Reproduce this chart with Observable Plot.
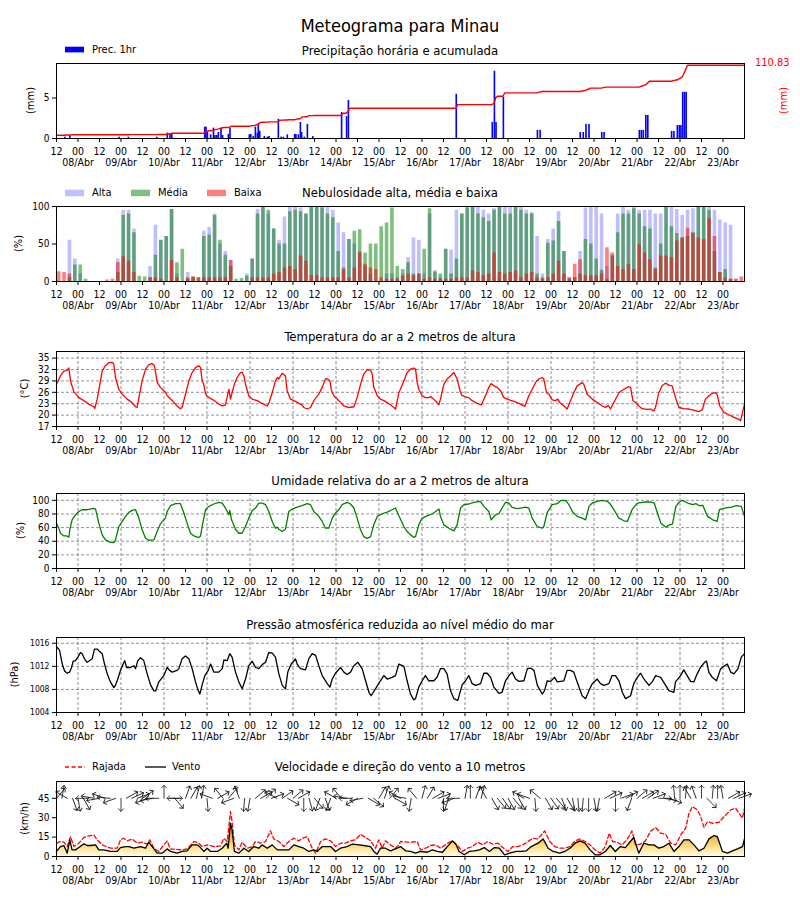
<!DOCTYPE html>
<html><head><meta charset="utf-8">
<script src="https://cdn.jsdelivr.net/npm/d3@7"></script>
<script src="https://cdn.jsdelivr.net/npm/@observablehq/plot@0.6"></script>
<style>
body{margin:0;background:#fff;}
#root{position:relative;width:800px;height:900px;overflow:hidden;background:#fff;}
</style></head><body><div id="root"></div>
<script>
// ---------------- DATA (hours from the first tick) ----------------
const dateLabels = ["08/Abr","09/Abr","10/Abr","11/Abr","12/Abr","13/Abr","14/Abr","15/Abr","16/Abr","17/Abr","18/Abr","19/Abr","20/Abr","21/Abr","22/Abr","23/Abr"];
const hourLabels = ["12","00"];

const precipSeries = [[5.0,0.17],[7.8,0.37],[35.2,0.17],[40.4,0.17],[56.2,0.17],[62.1,0.66],[63.6,0.58],[64.6,0.66],[83.0,1.4],[83.7,1.4],[84.5,0.74],[86.3,0.45],[87.9,1.28],[88.7,0.37],[89.7,0.37],[90.6,0.74],[92.1,1.28],[93.0,0.37],[96.2,0.5],[97.1,1.28],[107.9,0.45],[108.7,0.5],[110.1,0.25],[111.3,1.4],[112.4,0.66],[112.9,1.74],[113.7,0.9],[116.3,0.25],[118.0,0.17],[118.9,0.25],[124.1,2.36],[125.6,0.17],[126.9,0.17],[129.1,0.45],[133.2,0.5],[133.9,0.5],[135.3,0.45],[136.4,1.98],[137.1,0.74],[138.6,0.17],[140.3,1.74],[143.3,0.25],[159.4,3.2],[162.2,2.7],[163.2,4.7],[223.4,5.45],[243.5,1.98],[244.7,8.3],[245.6,1.98],[249.7,5.1],[268.7,1.0],[270.2,1.0],[292.6,0.74],[294.3,0.74],[295.8,1.74],[297.5,1.74],[304.6,0.74],[305.9,0.74],[325.6,1.0],[326.7,1.0],[327.8,1.0],[329.2,2.85],[330.3,2.85],[343.6,0.87],[344.9,0.87],[346.8,1.6],[347.9,1.6],[348.8,1.6],[349.8,5.7],[350.8,5.7],[351.7,5.7]];
const accStart = 4.9;          // accumulated value at the start of the line (right axis, mm)
const accAxisTop = 110.83;     // right axis label

const cloudStep = 3;
const cloudAlta = [0,0,55,30,10,0,0,0,0,0, 0,30,95,95,70,0,0,20,75,55, 60,96,10,0,12,5,0,67,72,90, 50,40,28,0,0,10,30,96,100,90, 70,55,86,100,100,98,90,100,100,100, 100,95,78,65,56,50,40,20,10,0, 0,10,10,5,10,32,58,55,10,90, 12,5,43,42,95,90,100,100,100,95, 90,97,100,100,100,100,100,95,92,60, 10,56,70,93,40,5,5,40,98,100, 100,90,20,35,90,100,95,100,95,95, 95,90,90,100,100,96,88,95,97,100, 100,100,95,82,78,75,3,0];
const cloudMedia = [0,0,5,22,22,3,0,0,0,0, 0,12,88,90,65,7,6,5,35,55, 60,96,25,43,3,6,5,60,62,88, 55,35,20,3,4,7,30,90,100,95, 70,50,50,93,95,93,90,100,100,98, 90,85,40,18,56,67,69,38,50,50, 73,78,98,20,16,25,10,10,43,97, 14,10,43,10,30,90,98,100,90,85, 80,95,100,90,90,100,95,90,90,10, 5,51,54,80,40,3,5,10,56,50, 30,15,3,34,65,90,90,97,90,73, 70,18,50,100,73,64,58,60,65,100, 100,95,40,12,16,3,0,0];
const cloudBaixa = [13,12,10,0,0,0,0,0,0,2, 3,25,33,27,12,0,0,5,5,3, 0,28,5,0,5,6,5,5,5,5, 5,5,28,0,0,0,5,5,5,5, 10,12,18,20,16,34,27,8,8,5, 5,5,5,15,5,18,38,23,18,16, 5,3,3,3,7,10,8,10,3,5, 3,3,3,3,5,5,5,14,12,8, 10,38,12,10,12,14,5,10,12,5, 3,5,10,27,10,5,23,29,8,8, 8,10,45,38,20,16,23,16,49,38, 29,16,34,34,32,54,58,71,64,58, 56,84,60,12,5,3,3,6];

const tempSeries = [[0,28.1],[2.2,30.3],[4.1,31.6],[6.0,31.8],[6.9,32.4],[7.8,29.0],[9.7,26.1],[12.5,24.6],[15.3,23.8],[18.0,22.9],[20.8,22.2],[21.4,21.8],[22.7,24.2],[24.2,28.1],[25.5,31.6],[27.3,33.0],[29.2,33.8],[31.1,33.9],[32.0,33.4],[32.9,29.9],[34.8,26.8],[36.7,25.5],[39.4,24.2],[42.2,23.3],[44.1,22.2],[45.0,22.0],[46.0,24.6],[47.8,29.0],[49.7,32.1],[51.5,33.2],[53.4,33.6],[54.7,33.0],[56.2,28.6],[58.0,27.3],[59.9,26.4],[60.8,26.1],[61.8,25.1],[64.6,23.8],[67.3,22.4],[69.2,21.7],[70.1,22.0],[72.0,25.5],[73.9,29.0],[75.7,31.2],[77.6,32.5],[79.4,33.0],[80.4,32.5],[81.3,29.0],[82.2,28.1],[83.2,25.5],[85.0,24.6],[87.8,23.9],[90.6,22.9],[92.5,22.4],[94.3,22.7],[96.2,26.8],[97.1,24.2],[99.0,27.7],[100.8,29.9],[102.7,31.2],[103.6,31.3],[104.6,30.3],[105.5,28.1],[107.3,25.1],[109.2,24.2],[112.0,23.8],[113.9,23.3],[115.7,22.9],[117.6,22.4],[118.5,23.1],[120.4,25.9],[122.2,29.0],[123.2,29.9],[124.1,29.5],[125.0,30.3],[126.0,31.0],[127.8,30.3],[128.7,26.4],[130.6,24.2],[132.5,23.8],[135.3,23.1],[137.1,22.7],[138.0,22.0],[139.9,21.6],[141.8,22.0],[143.6,23.8],[146.4,25.5],[148.3,27.3],[150.1,29.5],[151.1,29.6],[152.6,29.0],[153.5,26.4],[154.8,25.1],[157.6,23.8],[160.4,22.4],[163.2,22.0],[166.0,22.2],[167.8,24.6],[169.7,28.1],[171.5,30.8],[173.4,31.9],[175.3,31.8],[176.2,30.8],[177.1,27.3],[179.0,25.1],[180.8,24.2],[182.7,23.8],[184.6,23.3],[187.3,22.4],[189.2,21.6],[191.1,25.9],[193.9,29.0],[195.7,31.2],[197.6,32.1],[199.4,32.4],[200.4,32.1],[201.3,28.6],[202.2,26.8],[204.1,25.1],[205.9,24.6],[207.8,24.6],[208.7,24.9],[210.6,24.2],[212.4,23.3],[213.4,22.7],[214.3,24.2],[216.2,28.1],[218.0,29.5],[219.9,30.3],[221.8,31.2],[223.6,29.5],[225.5,25.9],[226.4,25.2],[228.3,24.8],[230.1,24.6],[232.0,23.8],[234.8,23.1],[237.2,22.7],[239.4,25.1],[241.3,27.3],[242.6,28.3],[244.1,27.7],[246.0,27.3],[247.8,26.4],[249.7,24.6],[251.6,24.2],[253.4,23.9],[255.3,23.6],[258.1,23.1],[261.4,22.3],[263.6,25.1],[265.5,26.8],[267.4,28.6],[269.2,29.5],[271.1,29.9],[272.0,29.5],[273.5,25.9],[274.8,25.5],[276.7,24.0],[278.5,23.8],[279.8,24.2],[280.9,23.3],[283.2,22.4],[285.0,21.6],[286.9,23.8],[288.7,25.9],[290.6,27.7],[293.4,28.6],[294.3,28.1],[296.2,25.5],[299.0,24.2],[301.8,23.3],[304.6,22.4],[306.4,22.0],[307.4,22.4],[308.3,22.4],[309.2,21.6],[311.1,23.3],[313.9,25.9],[316.7,26.8],[319.4,27.5],[320.4,27.3],[321.7,23.8],[323.2,23.3],[325.0,22.4],[326.9,21.7],[329.7,21.5],[331.5,21.6],[333.4,21.1],[334.3,22.0],[336.2,25.9],[338.0,27.7],[339.9,28.4],[341.8,27.9],[343.6,27.7],[345.5,24.6],[347.4,22.0],[350.1,21.7],[352.9,21.6],[355.7,21.3],[358.5,20.9],[360.4,21.4],[362.2,24.2],[364.1,25.1],[366.0,25.7],[367.8,25.9],[368.7,25.5],[370.2,22.4],[372.5,20.7],[375.3,20.1],[378.1,19.4],[380.9,18.9],[381.8,18.5],[384,22.9]];

const humSeries = [[0,66.5],[1.3,59],[2.2,51.7],[4.1,47.8],[5.6,47.8],[6.9,45.8],[7.4,56.7],[8.7,71.4],[10.6,78.8],[12.5,83.7],[14.3,86.2],[17.1,86.2],[19.0,87.2],[20.8,88.2],[21.8,87.2],[23.6,66.5],[25.5,49.3],[27.3,41.9],[30.1,38.4],[32.0,37.9],[32.9,41.9],[34.8,61.6],[36.7,69],[38.5,76.4],[40.4,82.3],[42.2,85.2],[44.1,86.2],[46.0,73.9],[47.8,56.7],[49.7,44.3],[51.5,41.4],[54.3,41.9],[56.2,54.2],[58.0,65.5],[59.9,71.4],[60.8,73.9],[61.8,83.7],[63.6,92.1],[66.4,95.1],[69.2,95.1],[71.1,81.3],[72.9,66.5],[74.8,51.7],[76.7,47.8],[79.4,45.3],[80.4,47.8],[81.3,61.6],[83.2,86.2],[85.0,91.1],[87.8,94.6],[90.6,97],[92.5,96],[94.3,88.7],[96.2,78.8],[96.7,85.2],[97.7,71.4],[99.9,57.6],[101.8,51.7],[103.6,51.7],[105.5,61.6],[107.3,73.9],[109.2,84.7],[111.1,88.7],[112.9,96],[114.8,96],[116.7,93.6],[118.5,83.7],[120.4,69],[122.2,59.1],[123.2,60.6],[124.1,57.6],[126.0,54.2],[127.8,57.6],[129.7,83.7],[131.5,87.2],[134.3,90.1],[137.1,92.1],[139.9,95.1],[141.8,93.6],[143.6,83.7],[146.4,76.4],[148.3,69],[150.1,59.1],[152.0,59.1],[153.9,73.9],[155.7,81.3],[157.6,86.2],[159.4,93.6],[162.2,97],[164.1,94.6],[166.0,88.7],[167.8,73.9],[169.7,56.7],[171.5,46.8],[173.4,44.3],[175.3,46.8],[177.1,64],[179.0,76.4],[181.8,80.3],[184.6,82.8],[187.3,86.2],[189.2,88.7],[191.1,77.3],[193.9,61.6],[195.7,54.2],[197.6,49.3],[199.4,45.8],[200.4,46.8],[202.2,64],[204.1,73.9],[206.9,77.3],[209.8,80.3],[211.6,83.7],[213.5,87.2],[214.3,76.4],[216.2,64],[219.0,59.1],[221.8,55.2],[223.6,64],[225.5,88.7],[227.4,93.6],[230.1,94.6],[232.9,97],[236.6,98.5],[238.5,91.1],[241.3,83.7],[242.6,71.4],[245.0,78.8],[246.9,80.3],[248.7,88.7],[250.6,97],[252.5,96],[254.3,89.7],[257.1,87.7],[259.0,88.7],[261.8,90.1],[263.6,88.7],[265.5,73.9],[268.3,61.6],[271.1,59.1],[272.0,61.6],[273.9,82.3],[276.7,93.6],[279.5,95.1],[281.3,99.5],[284.1,100],[286.0,93.6],[287.9,83.7],[290.6,76.4],[293.4,73.9],[295.3,71.4],[297.2,91.1],[299.0,96],[301.8,98.5],[304.6,100],[307.4,98.5],[308.9,95.1],[311.1,86.2],[313.9,73.9],[316.7,70],[318.6,69],[321.4,87.2],[324.2,96],[327.9,97.5],[331.7,97.5],[333.6,96],[335.4,81.3],[337.3,66.5],[340.1,60.6],[342.0,64],[343.8,65],[345.7,91.1],[347.6,97.5],[349.4,100],[352.3,96],[355.1,93.6],[356.9,95.1],[358.8,92.1],[360.7,92.6],[363.4,76.4],[366.3,71.4],[368.7,69],[370.0,86.2],[372.8,88.7],[376.6,90.1],[379.4,92.1],[382.2,91.1],[384,76.4]];

const presSeries = [[0,1015.4],[1.7,1014.8],[3.2,1012.4],[4.5,1011.2],[6.0,1010.8],[7.3,1011.0],[8.4,1011.8],[9.3,1012.9],[10.6,1013.0],[11.9,1013.6],[13.4,1014.4],[14.3,1014.2],[15.6,1013.3],[17.1,1012.7],[18.6,1013.0],[19.9,1013.3],[21.2,1015.0],[22.7,1015.0],[24.0,1014.6],[25.5,1014.2],[26.8,1012.4],[28.3,1010.7],[30.1,1009.3],[32.0,1008.3],[32.9,1008.7],[34.2,1009.8],[35.7,1011.3],[37.2,1012.4],[38.1,1013.0],[39.1,1011.8],[41.3,1011.8],[43.2,1012.1],[44.1,1011.6],[45.4,1013.0],[46.9,1013.5],[48.7,1013.0],[50.6,1010.7],[52.5,1008.8],[54.3,1007.8],[55.3,1007.7],[57.1,1009.3],[59.9,1010.4],[61.8,1011.8],[63.1,1011.3],[64.6,1011.0],[67.3,1011.3],[68.3,1011.6],[70.1,1013.3],[72.0,1013.8],[73.9,1013.3],[75.7,1011.6],[77.6,1009.3],[79.1,1007.8],[80.0,1007.2],[81.3,1008.8],[82.8,1010.4],[84.7,1011.3],[86.0,1012.4],[87.8,1011.0],[90.6,1011.0],[92.5,1011.6],[93.4,1013.1],[95.3,1013.0],[96.7,1014.2],[98.0,1013.6],[99.9,1011.0],[101.8,1009.3],[103.6,1008.1],[105.5,1009.8],[107.3,1012.1],[109.2,1012.9],[111.1,1011.8],[112.9,1011.6],[114.8,1012.3],[116.7,1012.7],[118.5,1014.4],[120.4,1014.3],[122.2,1013.6],[124.1,1010.7],[126.0,1008.7],[127.8,1008.1],[129.1,1011.0],[131.0,1012.4],[133.4,1013.3],[134.3,1012.4],[136.2,1011.6],[139.0,1011.4],[140.8,1013.3],[142.7,1014.2],[144.6,1013.9],[146.4,1012.1],[148.3,1010.4],[151.1,1009.0],[152.6,1008.4],[153.9,1009.8],[155.7,1010.8],[158.5,1011.8],[160.4,1011.0],[162.2,1010.6],[164.1,1011.0],[166.0,1012.1],[168.2,1012.7],[170.6,1011.6],[172.5,1009.5],[174.4,1007.5],[175.6,1006.9],[178.0,1008.1],[180.8,1009.5],[182.7,1010.4],[184.6,1009.8],[187.3,1010.1],[189.2,1010.4],[191.1,1012.4],[193.9,1012.0],[195.7,1009.5],[197.6,1007.2],[199.4,1006.2],[200.4,1006.4],[202.2,1008.4],[204.1,1009.5],[205.9,1010.4],[207.8,1009.5],[210.6,1009.5],[212.4,1010.1],[214.3,1011.6],[216.2,1011.6],[218.0,1010.7],[219.9,1007.8],[221.8,1006.4],[224.0,1006.1],[226.4,1008.8],[228.3,1009.5],[230.1,1010.4],[232.0,1009.0],[233.9,1008.7],[236.7,1009.0],[238.5,1010.8],[240.4,1010.8],[242.3,1010.1],[244.1,1008.4],[246.9,1007.3],[248.7,1007.5],[250.6,1009.5],[252.5,1010.4],[254.3,1011.0],[256.2,1009.8],[258.1,1009.4],[260.9,1009.5],[262.8,1011.6],[264.6,1011.7],[266.5,1011.3],[268.4,1008.7],[271.1,1007.2],[272.4,1007.8],[273.9,1009.5],[275.8,1009.4],[278.0,1010.1],[279.5,1009.3],[283.2,1009.5],[285.0,1011.3],[286.9,1011.3],[288.7,1011.0],[290.6,1009.3],[293.4,1006.9],[295.3,1006.4],[297.2,1007.8],[299.0,1009.0],[301.8,1009.8],[303.6,1009.0],[305.5,1008.7],[308.3,1009.0],[310.1,1010.4],[312.0,1010.4],[313.9,1009.5],[315.8,1007.5],[317.6,1006.4],[320.4,1006.9],[322.2,1009.0],[324.2,1010.1],[326.0,1010.8],[327.9,1009.8],[330.7,1008.7],[332.5,1009.3],[334.4,1010.4],[337.2,1010.1],[340.0,1008.7],[341.8,1007.8],[344.6,1007.5],[345.5,1009.3],[348.3,1010.4],[350.1,1011.4],[352.0,1010.4],[353.9,1009.4],[355.7,1009.3],[357.6,1010.7],[359.4,1011.8],[361.7,1012.7],[362.8,1012.9],[364.1,1011.0],[366.0,1010.1],[368.4,1009.5],[370.7,1011.6],[372.5,1012.0],[374.4,1012.4],[376.3,1011.0],[378.1,1010.7],[380.4,1011.6],[382.2,1013.6],[384,1014.2]];

const windSeries = [[0,3.9],[2.2,7.7],[4.1,8.5],[6.0,2.6],[7.4,12.9],[8.7,5.1],[10.6,5.1],[12.5,6.9],[15.3,9.8],[17.1,8.5],[19.0,8.5],[21.8,9.0],[23.6,5.1],[26.4,5.1],[30.1,3.9],[33.9,3.9],[35.7,6.9],[38.5,7.7],[40.4,7.7],[43.2,6.4],[46.9,7.7],[49.7,6.4],[51.5,11.1],[53.4,7.7],[56.2,2.6],[59.0,2.6],[61.8,5.9],[63.6,3.9],[67.3,2.6],[70.1,3.9],[72.9,4.4],[75.7,9.0],[78.5,9.0],[80.4,6.9],[82.2,3.9],[84.1,6.4],[86.0,3.9],[89.7,3.9],[92.5,6.4],[95.0,10.3],[95.8,6.4],[97.1,25.7],[98.0,20.6],[99.3,3.9],[101.8,2.6],[104.6,6.4],[107.3,3.9],[110.1,7.7],[112.9,6.4],[114.8,9.0],[117.6,6.4],[120.4,9.0],[123.2,5.1],[126.0,5.1],[129.7,5.1],[132.5,9.0],[135.3,7.7],[138.0,6.4],[140.8,3.9],[143.6,5.1],[145.5,3.9],[148.3,7.7],[151.1,7.7],[153.0,7.7],[155.7,3.9],[158.5,6.4],[162.2,7.7],[165.0,9.5],[168.8,9.0],[171.5,8.5],[175.3,7.7],[177.1,3.9],[179.0,1.8],[180.8,6.4],[183.6,6.4],[186.4,4.4],[190.1,6.4],[192.0,7.7],[194.8,4.4],[197.6,3.9],[200.4,2.6],[203.2,3.9],[206.9,3.3],[209.8,5.1],[212.6,3.9],[215.4,3.3],[218.2,7.7],[221.0,12.1],[222.9,9.5],[224.7,3.9],[227.6,1.3],[230.4,3.9],[233.2,4.4],[236.0,5.1],[238.8,6.9],[241.6,3.9],[244.4,6.9],[247.2,6.4],[250.1,1.3],[252.9,2.6],[256.6,3.9],[259.4,3.9],[262.2,4.4],[265.0,7.7],[268.8,10.3],[271.6,13.6],[274.4,6.4],[277.2,3.9],[280.9,2.6],[283.7,3.9],[286.6,6.4],[289.4,10.3],[292.2,12.1],[295.0,10.3],[297.8,5.1],[300.6,1.3],[303.4,1.3],[306.3,3.9],[309.1,8.5],[311.9,3.9],[314.7,7.7],[317.5,6.9],[320.3,11.6],[322.2,14.7],[325.0,2.6],[327.8,10.3],[330.6,9.0],[333.4,9.0],[336.2,6.4],[339.0,7.7],[341.8,10.3],[344.6,3.9],[347.4,7.7],[350.2,12.9],[353.0,12.9],[355.8,9.0],[358.6,4.4],[361.4,6.4],[364.2,13.6],[367.0,16.2],[368.8,15.4],[371.7,3.9],[374.5,2.6],[377.3,4.4],[380.1,5.9],[382.9,7.7],[384,13.6]];

const gustSeries = [[0,10.3],[2.2,11.6],[4.1,11.1],[6.0,7.7],[7.8,15.4],[9.7,7.7],[12.5,10.3],[15.3,14.7],[18.0,15.9],[20.8,16.7],[22.7,12.9],[25.5,9.0],[30.1,6.4],[33.9,6.4],[35.7,12.9],[37.6,14.1],[39.4,12.1],[42.2,13.6],[45.0,10.3],[47.8,11.1],[50.6,9.5],[52.1,12.9],[54.3,6.4],[57.1,3.9],[59.9,9.0],[61.8,12.1],[63.6,5.7],[66.4,5.7],[70.1,5.1],[72.9,5.9],[76.7,11.6],[79.4,10.3],[81.3,7.7],[84.1,9.0],[87.8,7.7],[91.6,8.2],[93.4,14.1],[95.3,11.6],[97.1,34.7],[98.0,27.0],[99.3,9.0],[101.8,5.1],[103.6,11.1],[106.4,6.4],[109.2,7.7],[111.1,11.6],[113.9,10.3],[116.7,11.6],[119.4,19.8],[121.3,13.6],[124.1,11.6],[126.9,7.7],[129.7,11.6],[132.5,14.1],[135.3,12.1],[137.1,14.1],[139.9,15.4],[142.7,6.4],[144.6,2.6],[147.4,11.6],[150.1,13.6],[153.0,12.1],[155.7,7.7],[158.5,10.3],[161.3,10.3],[164.1,12.1],[166.9,12.9],[169.7,17.2],[172.5,14.7],[175.3,12.1],[178.0,6.4],[179.9,12.9],[181.8,6.4],[183.6,12.1],[186.4,9.0],[189.2,6.4],[191.1,9.0],[192.0,11.6],[195.7,11.1],[198.5,11.1],[201.3,11.6],[203.2,5.1],[206.0,6.4],[208.8,8.5],[211.6,9.0],[214.5,6.4],[218.2,10.3],[221.0,12.1],[223.8,8.5],[226.6,3.9],[229.4,6.4],[232.2,7.7],[235.0,11.1],[237.9,9.0],[240.7,11.6],[243.5,9.5],[246.3,10.3],[249.1,6.9],[251.9,3.9],[254.7,7.7],[257.5,7.7],[260.3,9.0],[263.1,11.6],[265.9,14.1],[268.7,13.6],[272.5,19.8],[275.3,11.6],[278.1,7.7],[280.9,6.4],[283.7,6.4],[286.6,7.7],[289.4,12.1],[292.2,13.6],[295.0,11.6],[297.8,9.0],[300.6,5.1],[303.4,2.6],[306.3,7.7],[308.5,18.0],[310.4,11.6],[312.8,11.1],[315.6,9.0],[318.4,12.9],[321.2,19.8],[323.2,9.0],[325.9,9.5],[328.7,12.1],[331.5,19.3],[334.4,22.4],[337.2,18.0],[340.0,17.2],[342.8,10.3],[345.6,9.0],[348.4,16.7],[351.2,21.9],[353.0,33.4],[354.9,38.6],[357.7,36.0],[359.6,30.8],[361.4,22.4],[363.3,27.0],[366.1,25.7],[369.8,26.5],[372.6,30.8],[376.3,36.0],[379.1,37.3],[381.0,33.4],[382.8,29.6],[384,37.3]];

const windDirStep = 3;
const windDir = [40,10,300,160,170,150,270,280,260,290, 275,250,180,60,65,70,55,250,260,270, 0,90,140,270,20,30,15,10,175,290, 60,320,40,250,340,185,190,50,60,45, 70,300,55,120,50,60,180,165,140,200, 160,200,300,320,280,270,240,260,120,130, 30,20,40,120,300,280,190,320,15,30, 60,70,180,200,250,270,10,0,20,15, 330,150,140,145,150,140,150,300,290,175, 310,150,145,140,160,150,170,175,185,180, 170,190,60,65,180,70,60,200,50,60, 55,70,90,100,110,355,0,5,330,340, 0,135,5,0,350,60,65,70];

// ---------------- helpers ----------------
const toObj = s => s.map(([h, v]) => ({h, v}));
const tickHours = d3.range(0, 384, 12);
const hourLabel = new Map(tickHours.map((h, i) => [h, hourLabels[i % 2]]));
const dateHours = dateLabels.map((d, i) => 12 + 24 * i);
const dateLabel = new Map(dateHours.map((h, i) => [h, dateLabels[i]]));

const condensed = (() => {
  const c = document.createElement("canvas").getContext("2d");
  c.font = '20px "DejaVu Sans"'; const w1 = c.measureText("Meteograma para Minau").width;
  c.font = '20px "DejaVu Sans Condensed", "DejaVu Sans"'; const w2 = c.measureText("Meteograma para Minau").width;
  return w2 < w1 * 0.97;
})();
const FAM = condensed ? '"DejaVu Sans Condensed", "DejaVu Sans", sans-serif' : '"DejaVu Sans", sans-serif';
const K = condensed ? 1 : 0.9;
const fs = px => +(px * K).toFixed(2);

const root = document.getElementById("root");
const FRAME_TOPS = [63.3, 206.3, 350.7, 493.3, 636.7, 780.7];
const MT = 24, PH = 75, MB = 44;

// title
{
  const s = d3.select(root).append("svg").attr("width", 800).attr("height", 40)
    .style("position", "absolute").style("left", "0px").style("top", "0px");
  s.append("text").attr("x", 400).attr("y", 32.3).attr("text-anchor", "middle")
    .attr("font-family", FAM).attr("font-size", fs(18)).text("Meteograma para Minau");
}

function addText(svg, x, y, txt, o = {}) {
  const t = d3.select(svg).append("text").attr("x", x).attr("y", y).text(txt)
    .attr("font-family", FAM).attr("font-size", fs(o.size || 11)).attr("fill", o.fill || "black")
    .attr("text-anchor", o.anchor || "start");
  if (o.dy) t.attr("dy", o.dy);
  if (o.rotate) t.attr("transform", `rotate(${o.rotate},${x},${y})`);
  return t;
}

function panel(i, yDomain, yTicks, marks, opt = {}) {
  const svg = Plot.plot({
    width: 800, height: MT + PH + MB,
    marginLeft: 56, marginRight: 56, marginTop: MT, marginBottom: MB,
    x: {domain: [0, 384], label: null},
    y: {domain: yDomain, label: null},
    style: {fontFamily: FAM, fontSize: fs(10.5) + "px", background: "transparent", color: "black", overflow: "visible"},
    marks: [
      ...(opt.grid ? [
        Plot.gridX(dateHours, {stroke: "#777", strokeOpacity: 1, strokeWidth: 0.8, strokeDasharray: "3,2"}),
        Plot.gridY(yTicks, {stroke: "#777", strokeOpacity: 1, strokeWidth: 0.8, strokeDasharray: "3,2"})
      ] : []),
      ...marks,
      Plot.axisY(yTicks, {tickSize: 4, tickPadding: 3, label: null, tickFormat: d => String(d), fontSize: fs(opt.yFont || 10)}),
      Plot.axisX(tickHours, {tickSize: 4, tickPadding: 5, label: null, tickFormat: h => hourLabel.get(h), fontSize: fs(10.5)}),
      Plot.axisX(dateHours, {tickSize: 0, tickPadding: 20, label: null, tickFormat: h => dateLabel.get(h), fontSize: fs(10.5)}),
      Plot.frame({stroke: "black", strokeWidth: 1})
    ]
  });
  svg.style.position = "absolute"; svg.style.left = "0px"; svg.style.top = (FRAME_TOPS[i] - MT) + "px";
  root.appendChild(svg);
  if (opt.title) addText(svg, 400, MT + (opt.titleDy || -8), opt.title, {size: 13, anchor: "middle"});
  if (opt.ylabel) addText(svg, opt.ylabelX, MT + PH / 2, opt.ylabel, {size: 11, anchor: "middle", dy: "0.35em", rotate: -90});
  return svg;
}

// ---------- Panel 1: precipitation ----------
const precip = toObj(precipSeries).sort((a, b) => a.h - b.h);
const accLine = [{h: 0, acc: accStart}];
{
  let acc = accStart;
  for (const d of precip) { accLine.push({h: d.h - 0.5, acc}); acc += d.v; accLine.push({h: d.h + 0.5, acc}); }
  accLine.push({h: 384, acc});
}
const P_TOP = 9.26;
const s1 = panel(0, [0, P_TOP], [0, 5], [
  Plot.rect(precip, {x1: d => d.h - 0.45, x2: d => d.h + 0.45, y1: 0, y2: "v", fill: "blue"}),
  Plot.line(accLine, {x: "h", y: d => d.acc / accAxisTop * P_TOP, stroke: "red", strokeWidth: 1.4})
], {title: "Precipitação horária e acumulada", titleDy: -7.6, ylabel: "(mm)", ylabelX: 30});
addText(s1, 755, MT + 3, accAxisTop.toFixed(2), {size: 11, fill: "red"});
addText(s1, 783, MT + PH / 2, "(mm)", {size: 11, fill: "red", anchor: "middle", dy: "0.35em", rotate: -90});
d3.select(s1).append("rect").attr("x", 65).attr("y", MT - 16.3).attr("width", 19).attr("height", 5.7).attr("fill", "blue");
addText(s1, 92, MT - 10, "Prec. 1hr", {size: 11});

// ---------- Panel 2: clouds ----------
const clouds = cloudAlta.map((a, i) => ({h: i * cloudStep, alta: a, media: cloudMedia[i], baixa: cloudBaixa[i]}));
const barX = {x1: d => d.h + 0.5, x2: d => d.h + 2.5};
const s2 = panel(1, [0, 100], [0, 50, 100], [
  Plot.rect(clouds, {...barX, y1: 0, y2: "alta", fill: "blue", fillOpacity: 0.25}),
  Plot.rect(clouds, {...barX, y1: 0, y2: "media", fill: "green", fillOpacity: 0.5}),
  Plot.rect(clouds, {...barX, y1: 0, y2: "baixa", fill: "red", fillOpacity: 0.5})
], {title: "Nebulosidade alta, média e baixa", titleDy: -9, ylabel: "(%)", ylabelX: 18.5});
[["Alta", 65, 92, "rgba(0,0,255,0.25)"], ["Média", 131, 158, "rgba(0,128,0,0.5)"], ["Baixa", 207, 234, "rgba(255,0,0,0.5)"]].forEach(([t, rx, tx, c]) => {
  d3.select(s2).append("rect").attr("x", rx).attr("y", MT - 16.3).attr("width", 19).attr("height", 6.5).attr("fill", c);
  addText(s2, tx, MT - 9.6, t, {size: 11});
});

// ---------- Panel 3: temperature ----------
panel(2, [17, 36.74], [17, 20, 23, 26, 29, 32, 35], [
  Plot.line(toObj(tempSeries), {x: "h", y: "v", stroke: "red", strokeWidth: 1.3})
], {grid: true, title: "Temperatura do ar a 2 metros de altura", titleDy: -10, ylabel: "(°C)", ylabelX: 24});

// ---------- Panel 4: humidity ----------
panel(3, [0, 110], [0, 20, 40, 60, 80, 100], [
  Plot.line(toObj(humSeries), {x: "h", y: "v", stroke: "green", strokeWidth: 1.3})
], {grid: true, title: "Umidade relativa do ar a 2 metros de altura", titleDy: -7.6, ylabel: "(%)", ylabelX: 20.5});

// ---------- Panel 5: pressure ----------
panel(4, [1004, 1017], [1004, 1008, 1012, 1016], [
  Plot.line(toObj(presSeries), {x: "h", y: "v", stroke: "black", strokeWidth: 1.3})
], {grid: true, title: "Pressão atmosférica reduzida ao nível médio do mar", titleDy: -8.4, ylabel: "(hPa)", ylabelX: 14.5, yFont: 8.5});

// ---------- Panel 6: wind ----------
const wind = toObj(windSeries), gust = toObj(gustSeries);
const arrows = windDir.map((r, i) => ({h: i * windDirStep, r}));
const s6 = panel(5, [0, 58], [0, 15, 30, 45], [
  Plot.areaY(wind, {x: "h", y: "v", fill: "url(#windGrad)"}),
  Plot.line(gust, {x: "h", y: "v", stroke: "red", strokeWidth: 1.3, strokeDasharray: "4,2.5"}),
  Plot.line(wind, {x: "h", y: "v", stroke: "black", strokeWidth: 1.3}),
  Plot.vector(arrows, {x: "h", y: () => 45, rotate: "r", length: 13, anchor: "start", stroke: "#111", strokeWidth: 0.8})
], {title: "Velocidade e direção do vento a 10 metros", titleDy: -10, ylabel: "(km/h)", ylabelX: 24});
{
  const ys = s6.scale("y");
  const defs = d3.select(s6).insert("defs", ":first-child");
  const g = defs.append("linearGradient").attr("id", "windGrad").attr("gradientUnits", "userSpaceOnUse")
    .attr("x1", 0).attr("x2", 0).attr("y1", ys.apply(0)).attr("y2", ys.apply(18));
  g.append("stop").attr("offset", 0).attr("stop-color", "#fffbe6");
  g.append("stop").attr("offset", 0.45).attr("stop-color", "#fddc7a");
  g.append("stop").attr("offset", 1).attr("stop-color", "#f39a3c");
  const L = d3.select(s6);
  L.append("line").attr("x1", 65).attr("x2", 85).attr("y1", MT - 14).attr("y2", MT - 14).attr("stroke", "red").attr("stroke-width", 1.3).attr("stroke-dasharray", "4,2.5");
  addText(s6, 92, MT - 10.7, "Rajada", {size: 11});
  L.append("line").attr("x1", 145).attr("x2", 166).attr("y1", MT - 14).attr("y2", MT - 14).attr("stroke", "black").attr("stroke-width", 1.3);
  addText(s6, 172, MT - 10.7, "Vento", {size: 11});
}
</script></body></html>
